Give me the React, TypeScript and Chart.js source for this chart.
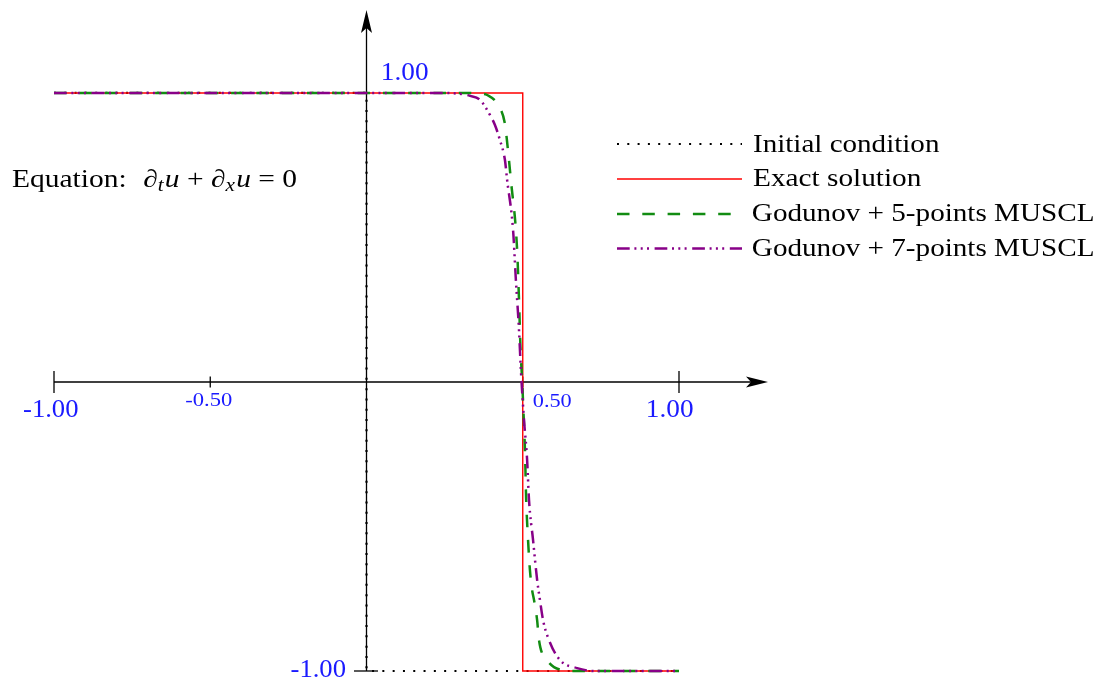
import { useEffect, useRef } from "react";
import { Chart, registerables } from "chart.js";

Chart.register(...registerables);

// Initial condition u0(x): +1 left of the origin, -1 to the right
const initialX = [-1, 0, 0, 1];
const initialU = [1, 1, -1, -1];

// Exact solution after transport by 0.5
const exactX = [-1, 0.5, 0.5, 1];
const exactU = [1, 1, -1, -1];

// Godunov + 5-points MUSCL
const muscl5X = [-1, 0.299, 0.363, 0.386, 0.421, 0.443, 0.45, 0.462, 0.482, 0.488, 0.493, 0.498, 0.502, 0.507, 0.511, 0.517, 0.523, 0.53, 0.536, 0.546, 0.552, 0.578, 0.629, 0.667, 1];
const muscl5U = [1, 1, 0.998, 0.993, 0.958, 0.893, 0.83, 0.699, 0.457, 0.284, 0.111, 0.007, -0.097, -0.235, -0.408, -0.547, -0.651, -0.72, -0.754, -0.824, -0.893, -0.962, -0.997, -1, -1];

// Godunov + 7-points MUSCL
const muscl7X = [-1, 0.235, 0.299, 0.331, 0.363, 0.395, 0.411, 0.427, 0.443, 0.45, 0.469, 0.478, 0.488, 0.494, 0.504, 0.514, 0.52, 0.533, 0.546, 0.555, 0.565, 0.584, 0.619, 0.674, 0.731, 1];
const muscl7U = [1, 1, 0.997, 0.99, 0.976, 0.924, 0.889, 0.837, 0.768, 0.699, 0.526, 0.353, 0.18, 0.042, -0.131, -0.27, -0.408, -0.547, -0.685, -0.754, -0.824, -0.893, -0.962, -0.99, -1, -1];

const xTicks = [-1, -0.5, 0.5, 1];
const xTickLabels = ["-1.00", "-0.50", "0.50", "1.00"];
const yTicks = [-1, 1];
const yTickLabels = ["-1.00", "1.00"];

const seriesNames = ["Initial condition", "Exact solution", "Godunov + 5-points MUSCL", "Godunov + 7-points MUSCL"];

const SERIF = '"Liberation Serif", "DejaVu Serif", serif';
const BLUE = "#1a1aff";
const GREEN = "#128c12";
const PURPLE = "#880088";
const RED = "#ff0000";

const styles = [
  { color: "#000000", width: 2.2, dash: [2, 8.3] },
  { color: RED, width: 1.4, dash: [] as number[] },
  { color: GREEN, width: 2.5, dash: [12.5, 12.8] },
  { color: PURPLE, width: 2.5, dash: [12.7, 4.7, 2, 4.3, 2, 4.3, 2, 5.6] },
];

const toPoints = (xs: number[], ys: number[]) => xs.map((x, i) => ({ x, y: ys[i] }));

// Draws text so that its ink spans exactly `width` pixels from `left`
function fitText(ctx: CanvasRenderingContext2D, text: string, left: number, baseline: number, width: number, font: string, color: string) {
  ctx.save();
  ctx.font = font;
  ctx.fillStyle = color;
  ctx.textAlign = "left";
  ctx.textBaseline = "alphabetic";
  const m = ctx.measureText(text);
  const ink = m.actualBoundingBoxLeft + m.actualBoundingBoxRight;
  const s = width / ink;
  ctx.translate(left + m.actualBoundingBoxLeft * s, baseline);
  ctx.scale(s, 1);
  ctx.fillText(text, 0, 0);
  ctx.restore();
}

type Run = { t: string; font: string; dy?: number; gap?: number };

function fitRuns(ctx: CanvasRenderingContext2D, runs: Run[], left: number, baseline: number, width: number, color: string) {
  ctx.save();
  const widths = runs.map((r) => {
    ctx.font = r.font;
    return ctx.measureText(r.t).width + (r.gap ?? 0);
  });
  const total = widths.reduce((a, b) => a + b, 0);
  const s = width / total;
  ctx.fillStyle = color;
  ctx.textBaseline = "alphabetic";
  ctx.textAlign = "left";
  ctx.translate(left, baseline);
  ctx.scale(s, 1);
  let x = 0;
  runs.forEach((r, i) => {
    ctx.font = r.font;
    ctx.fillText(r.t, x + (r.gap ?? 0), r.dy ?? 0);
    x += widths[i];
  });
  ctx.restore();
}

const decorations = {
  id: "decorations",
  beforeDatasetsDraw(chart: any) {
    const ctx: CanvasRenderingContext2D = chart.ctx;
    const xs = chart.scales.x;
    const ys = chart.scales.y;
    const x0 = xs.getPixelForValue(0);
    const y0 = ys.getPixelForValue(0);
    const { top, right } = chart.chartArea;
    ctx.save();
    ctx.strokeStyle = "#000";
    ctx.fillStyle = "#000";
    ctx.lineWidth = 1.3;
    ctx.setLineDash([]);
    // x axis
    ctx.beginPath();
    ctx.moveTo(xs.getPixelForValue(-1), y0);
    ctx.lineTo(right - 8, y0);
    ctx.stroke();
    // y axis
    ctx.beginPath();
    ctx.moveTo(x0, ys.getPixelForValue(-1));
    ctx.lineTo(x0, top + 8);
    ctx.stroke();
    // arrow heads
    ctx.beginPath();
    ctx.moveTo(right, y0);
    ctx.lineTo(right - 22, y0 - 5.5);
    ctx.lineTo(right - 17, y0);
    ctx.lineTo(right - 22, y0 + 5.5);
    ctx.closePath();
    ctx.fill();
    ctx.beginPath();
    ctx.moveTo(x0, top);
    ctx.lineTo(x0 - 5.5, top + 23);
    ctx.lineTo(x0, top + 18);
    ctx.lineTo(x0 + 5.5, top + 23);
    ctx.closePath();
    ctx.fill();
    // x ticks
    xTicks.forEach((v) => {
      const px = xs.getPixelForValue(v);
      const h = Math.abs(v) === 1 ? 11 : 5.5;
      ctx.beginPath();
      ctx.moveTo(px, y0 - h);
      ctx.lineTo(px, y0 + h);
      ctx.stroke();
    });
    // y tick at -1
    const yb = ys.getPixelForValue(-1);
    ctx.beginPath();
    ctx.moveTo(x0 - 12.5, yb);
    ctx.lineTo(x0 + 11.5, yb);
    ctx.stroke();
    ctx.restore();
  },
  afterDatasetsDraw(chart: any) {
    const ctx: CanvasRenderingContext2D = chart.ctx;
    const xs = chart.scales.x;
    const ys = chart.scales.y;
    const x0 = xs.getPixelForValue(0);
    const y0 = ys.getPixelForValue(0);
    const big = `25px ${SERIF}`;
    const small = `18px ${SERIF}`;

    // tick labels on the x axis
    const xLabelLayout = [
      { dx: -31, dy: 35, w: 55, font: big },
      { dx: -25, dy: 24, w: 47, font: small },
      { dx: 10, dy: 25, w: 39, font: small },
      { dx: -31, dy: 35, w: 45, font: big },
    ];
    xTicks.forEach((v, i) => {
      const l = xLabelLayout[i];
      fitText(ctx, xTickLabels[i], xs.getPixelForValue(v) + l.dx, y0 + l.dy, l.w, l.font, BLUE);
    });

    // tick labels on the y axis
    yTicks.forEach((v, i) => {
      const py = ys.getPixelForValue(v);
      if (v < 0) fitText(ctx, yTickLabels[i], x0 - 21 - 55, py + 6, 55, big, BLUE);
      else fitText(ctx, yTickLabels[i], x0 + 16.5, py - 13, 45, big, BLUE);
    });

    // legend
    const rows = [144, 179, 214, 248.5];
    const baselines = [152, 186, 221, 255.5];
    const textWidths = [187, 169, 340, 340];
    seriesNames.forEach((name, i) => {
      const st = styles[i];
      ctx.save();
      ctx.strokeStyle = st.color;
      ctx.lineWidth = st.width;
      ctx.setLineDash(st.dash);
      ctx.beginPath();
      ctx.moveTo(617, rows[i]);
      ctx.lineTo(742, rows[i]);
      ctx.stroke();
      ctx.restore();
      fitText(ctx, name, 753, baselines[i], textWidths[i], `25px ${SERIF}`, "#000");
    });

    // equation
    const rm = `25px ${SERIF}`;
    const it = `italic 25px ${SERIF}`;
    const sub = `italic 18px ${SERIF}`;
    fitRuns(
      ctx,
      [
        { t: "Equation:", font: rm },
        { t: "\u2202", font: rm, gap: 14 },
        { t: "t", font: sub, dy: 4 },
        { t: "u", font: it, gap: 1 },
        { t: " + ", font: rm },
        { t: "\u2202", font: rm },
        { t: "x", font: sub, dy: 4 },
        { t: "u", font: it, gap: 1 },
        { t: " = ", font: rm },
        { t: "0", font: rm },
      ],
      12,
      187,
      285,
      "#000"
    );
  },
};

export default function App() {
  const canvasRef = useRef<HTMLCanvasElement | null>(null);

  useEffect(() => {
    if (!canvasRef.current) return;
    const series = [
      toPoints(initialX, initialU),
      toPoints(exactX, exactU),
      toPoints(muscl5X, muscl5U),
      toPoints(muscl7X, muscl7U),
    ];
    const chart = new Chart(canvasRef.current, {
      type: "scatter",
      data: {
        datasets: series.map((data, i) => ({
          label: seriesNames[i],
          data,
          showLine: true,
          borderColor: styles[i].color,
          borderWidth: styles[i].width,
          borderDash: styles[i].dash,
          pointRadius: 0,
          clip: false as any,
          order: 3 - i,
          cubicInterpolationMode: i >= 2 ? ("monotone" as const) : ("default" as const),
          tension: 0,
        })),
      },
      options: {
        animation: false,
        responsive: true,
        maintainAspectRatio: false,
        layout: { padding: { left: 54, right: 328, top: 10, bottom: 8 } },
        scales: {
          x: { type: "linear", min: -1, max: 1.2848, display: false },
          y: { type: "linear", min: -1, max: 1.287, display: false },
        },
        plugins: {
          legend: { display: false },
          tooltip: { enabled: false },
        },
        events: [],
      },
      plugins: [decorations],
    });
    return () => chart.destroy();
  }, []);

  return (
    <div style={{ position: "fixed", left: 0, top: 0, width: 1096, height: 679, background: "#fff" }}>
      <canvas ref={canvasRef} />
    </div>
  );
}
